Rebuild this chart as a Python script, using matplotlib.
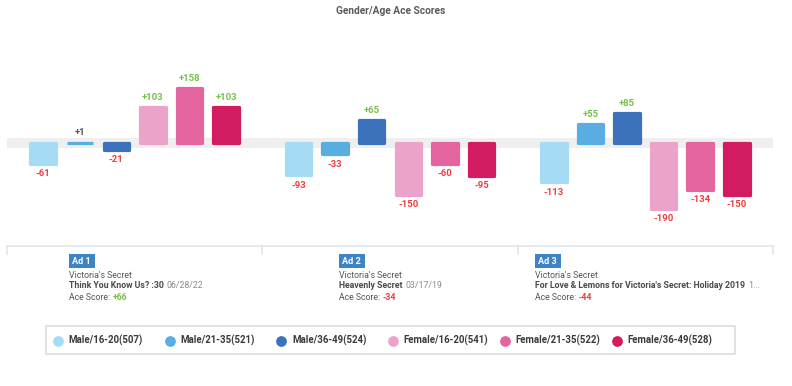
import numpy as np
import matplotlib.pyplot as plt
from matplotlib.patches import Rectangle

plt.rcParams['font.family'] = ['Roboto', 'DejaVu Sans']

# data
ads = ["Ad 1", "Ad 2", "Ad 3"]
brands = ["Victoria's Secret", "Victoria's Secret", "Victoria's Secret"]
ad_titles = ["Think You Know Us? :30", "Heavenly Secret",
             "For Love & Lemons for Victoria's Secret: Holiday 2019"]
ad_dates = ["06/28/22", "03/17/19", "1..."]
ace_scores = [66, -34, -44]

series = ["Male/16-20(507)", "Male/21-35(521)", "Male/36-49(524)",
          "Female/16-20(541)", "Female/21-35(522)", "Female/36-49(528)"]
colors = ['#a6dbf6', '#59ade2', '#3b72bb', '#eba3c9', '#e3649f', '#d21b61']
scores = [[-61, -93, -113],
          [1, -33, 55],
          [-21, 65, 85],
          [103, -150, -190],
          [158, -60, -134],
          [103, -95, -150]]

GREEN = '#76c043'
RED = '#f23c3c'
GREY = '#555555'

def score_color(v):
    if abs(v) < 5:
        return GREY
    return GREEN if v > 0 else RED

W, H = 792, 386
fig = plt.figure(figsize=(W / 100, H / 100), dpi=100)

# main bar axes
ax = fig.add_axes([7 / W, (H - 230) / H, 766 / W, 210 / H])
ax.set_xlim(0, 3)
ax.set_ylim(-250, 353)
ax.axis('off')
ax.axhspan(-14, 14, color='#efefef', zorder=0, lw=0)

step = 0.1433
bw = 0.100
xg = np.arange(len(ads)) + 0.5
for i, (name, col) in enumerate(zip(series, colors)):
    xs = xg + (i - 2.5) * step
    ax.bar(xs, scores[i], width=bw, color=col, edgecolor=col, linewidth=2.3,
           joinstyle='round', zorder=2)
    for x, v in zip(xs, scores[i]):
        lab = '%+d' % v
        off = 7 if v >= 0 else -7
        ax.annotate(lab, xy=(x, v), xytext=(0, off), textcoords='offset points',
                    ha='center', va='center', fontsize=6.8, fontweight='bold',
                    color=score_color(v))

# overlay in pixel coords for text/decoration
ov = fig.add_axes([0, 0, 1, 1], zorder=5)
ov.set_xlim(0, W)
ov.set_ylim(H, 0)
ov.axis('off')

ov.text(390.5, 11.5, "Gender/Age Ace Scores", ha='center', va='center',
        fontsize=7.3, fontweight='bold', color='#5a5a5a')

# divider with ticks
lc = '#dfe5f0'
ov.plot([7, 773], [246.3, 246.3], color=lc, lw=1.2)
for xv in [7, 262, 517.5, 773]:
    ov.plot([xv, xv], [246.3, 254], color=lc, lw=1.2)

lefts = [69, 339, 535]
for k, x0 in enumerate(lefts):
    ov.add_patch(Rectangle((x0, 254.3), 25.5, 14, facecolor='#3d84c6',
                           edgecolor='none', zorder=3))
    ov.text(x0 + 12.75, 261.5, ads[k], ha='center', va='center', fontsize=6.6,
            fontweight='bold', color='white', zorder=4)
    ov.text(x0, 275, brands[k], ha='left', va='center', fontsize=6.3,
            color=GREY)
    t = ov.text(x0, 286, ad_titles[k], ha='left', va='center', fontsize=6.3,
                fontweight='bold', color='#4a4a4a')
    ov.annotate(ad_dates[k], xy=(1, 0.5), xycoords=t, xytext=(2, 0),
                textcoords='offset points', ha='left', va='center',
                fontsize=6.3, color='#8a8a8a')
    s = ov.text(x0, 297.3, "Ace Score:", ha='left', va='center', fontsize=6.3,
                color=GREY)
    ov.annotate('%+d' % ace_scores[k], xy=(1, 0.5), xycoords=s, xytext=(2, 0),
                textcoords='offset points', ha='left', va='center',
                fontsize=6.3, fontweight='bold',
                color=score_color(ace_scores[k]))

# legend
ov.add_patch(Rectangle((45.7, 325.7), 689.3, 28.3, facecolor='white',
                       edgecolor='#dcdcdc', lw=1.2, zorder=2))
for k, (name, col) in enumerate(zip(series, colors)):
    cx = 58 + k * 111.7
    ov.scatter([cx], [340.7], s=60, color=col, zorder=3, linewidths=0)
    ov.text(cx + 10.5, 340.7, name, ha='left', va='center', fontsize=6.9,
            fontweight='bold', color='#3a3a3a', zorder=3)

fig.savefig('out.png', dpi=100)
